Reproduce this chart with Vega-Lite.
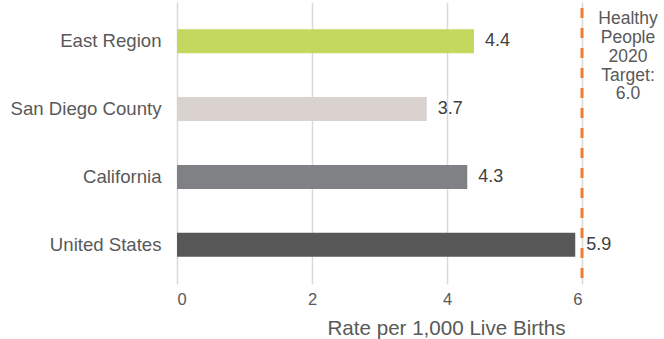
{
  "$schema": "https://vega.github.io/schema/vega-lite/v6.json",
  "width": 405,
  "height": 282,
  "autosize": {"type": "none"},
  "padding": {"left": 177, "top": 2, "right": 82, "bottom": 55},
  "background": "white",
  "config": {
    "view": {"stroke": null},
    "font": "Liberation Sans",
    "text": {"font": "Liberation Sans"}
  },
  "data": {
    "values": [
      {"region": "East Region", "rate": 4.4},
      {"region": "San Diego County", "rate": 3.7},
      {"region": "California", "rate": 4.3},
      {"region": "United States", "rate": 5.9}
    ]
  },
  "layer": [
    {
      "mark": {"type": "bar", "size": 24},
      "encoding": {
        "y": {
          "field": "region", "type": "nominal", "sort": null,
          "scale": {"paddingInner": 0, "paddingOuter": 0.08},
          "axis": {"title": null, "domain": false, "ticks": false, "labelFontSize": 18.6, "labelColor": "#595959", "labelPadding": 16, "labelFont": "Liberation Sans"}
        },
        "x": {
          "field": "rate", "type": "quantitative",
          "scale": {"domain": [0, 6], "nice": false},
          "axis": {
            "values": [0, 2, 4, 6], "format": "d", "domain": false, "ticks": false,
            "grid": true, "gridColor": "#d9d9d9", "gridWidth": 1.5,
            "labelFontSize": 16.5, "labelColor": "#595959", "labelPadding": 7, "labelFont": "Liberation Sans",
            "title": "Rate per 1,000 Live Births", "titleFontSize": 20.6, "titleFontWeight": "normal",
            "titleColor": "#595959", "titleFont": "Liberation Sans",
            "titleX": 269, "titleY": 50, "titleAlign": "center", "titleBaseline": "alphabetic"
          }
        },
        "color": {
          "field": "region", "type": "nominal", "legend": null,
          "scale": {
            "domain": ["East Region", "San Diego County", "California", "United States"],
            "range": ["#c4d75e", "#d9d2ce", "#808184", "#575757"]
          }
        }
      }
    },
    {
      "mark": {"type": "text", "align": "left", "baseline": "middle", "dx": 11, "fontSize": 18, "color": "#404040"},
      "encoding": {
        "y": {"field": "region", "type": "nominal", "sort": null},
        "x": {"field": "rate", "type": "quantitative"},
        "text": {"field": "rate", "type": "quantitative", "format": ".1f"}
      }
    },
    {
      "data": {"values": [{"target": 6, "region": "East Region", "label": "Healthy\nPeople\n2020\nTarget:\n6.0"}]},
      "layer": [
        {
          "mark": {"type": "rule", "color": "#ed7d31", "strokeWidth": 3, "strokeDash": [10, 10], "strokeDashOffset": -6},
          "encoding": {"x": {"field": "target", "type": "quantitative"}}
        },
        {
          "mark": {"type": "text", "align": "center", "baseline": "alphabetic", "dx": 46, "dy": -17, "fontSize": 17.5, "lineHeight": 18.75, "lineBreak": "\n", "color": "#595959"},
          "encoding": {
            "x": {"field": "target", "type": "quantitative"},
            "y": {"field": "region", "type": "nominal", "sort": null},
            "text": {"field": "label"}
          }
        }
      ]
    }
  ]
}
